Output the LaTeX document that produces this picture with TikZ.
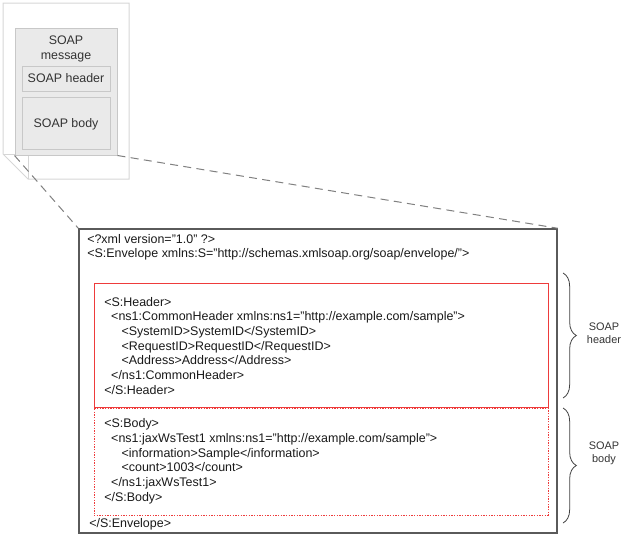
\documentclass[tikz,border=0pt]{standalone}
\usepackage{fontspec}
\setmainfont{Liberation Sans}
\usepackage{tikz}
\usetikzlibrary{positioning,fit,decorations.pathreplacing}

\definecolor{pageline}{HTML}{D6D6D6}
\definecolor{msgfill}{HTML}{EAEAEA}
\definecolor{msgline}{HTML}{C8C8C8}
\definecolor{envline}{HTML}{5A5A5A}
\definecolor{soapred}{HTML}{EE3B3B}
\definecolor{zoomgray}{HTML}{808080}

\begin{document}
\begin{tikzpicture}[x=0.75pt, y=-0.75pt,
  every node/.style={font=\fontsize{9.35}{11}\selectfont, text=black!90},
  pageframe/.style={draw=pageline, line width=0.75pt},
  msgbox/.style={draw=msgline, fill=msgfill, inner sep=0pt, line width=0.75pt},
  msgtext/.style={inner sep=0pt, align=center, font=\fontsize{9.3}{11}\selectfont, text=black!80},
  envbox/.style={draw=envline, inner sep=0pt, line width=1.1pt},
  partbox/.style={draw=soapred, inner sep=0pt, line width=0.75pt},
  codetext/.style={anchor=base west, inner sep=0pt, align=left},
  zoomline/.style={draw=zoomgray, dash pattern=on 6pt off 4pt, line width=0.75pt},
  sidebrace/.style={decorate, decoration={brace, amplitude=10pt}, draw=black!75, line width=0.6pt},
  sidelabel/.style={inner sep=0pt, align=center, font=\fontsize{8.2}{10}\selectfont, text=black!80},
]
\useasboundingbox (0,0) rectangle (629,536);

% === Small page (top left) ===
\draw[pageframe] (28,179) -- (3,154) -- (3,3) -- (129,3) -- (129,179) -- cycle;
\draw[pageframe] (3,154) -- (28,154) -- (28,179);

\node[msgbox, fit={(15,28) (117,155)}] (msg) {};
\node[msgtext] (msgtitle) at (66,49) {SOAP\\message};
\node[msgbox, fit={(22,66) (110,91)}] (hdr) {};
\node[msgtext, text depth=0pt] (hdrtext) at (hdr.center) {SOAP header};
\node[msgbox, fit={(22,97) (110,149)}] (bdy) {};
\node[msgtext, text depth=0pt] (bdytext) at (bdy.center) {SOAP body};

% === Envelope (zoomed) ===
\node[envbox, fit={(79,229) (557,533)}] (env) {};
\node[partbox, fit={(94,283) (548,407)}] (shdr) {};
\node[partbox, dash pattern=on 1pt off 1pt, fit={(94,408) (548,515)}] (sbdy) {};

% zoom lines
\draw[zoomline] (msg.south west) -- (env.north west);
\draw[zoomline] (msg.south east) -- (env.north east);

% === XML text ===
\node[codetext] (xmldecl) at (87,243) {<?xml version="1.0" ?>};
\node[codetext] (envopen) at (87,257.5) {<S:Envelope xmlns:S="http://schemas.xmlsoap.org/soap/envelope/">};

% multi-line: base is the last line
\node[codetext] (hdrxml) at (104,394.3) {<S:Header>\\
  \hspace*{0.56em}<ns1:CommonHeader xmlns:ns1="http://example.com/sample">\\
  \hspace*{1.39em}<SystemID>SystemID</SystemID>\\
  \hspace*{1.39em}<RequestID>RequestID</RequestID>\\
  \hspace*{1.39em}<Address>Address</Address>\\
  \hspace*{0.56em}</ns1:CommonHeader>\\
  </S:Header>};

\node[codetext] (bdyxml) at (104,501) {<S:Body>\\
  \hspace*{0.56em}<ns1:jaxWsTest1 xmlns:ns1="http://example.com/sample">\\
  \hspace*{1.39em}<information>Sample</information>\\
  \hspace*{1.39em}<count>1003</count>\\
  \hspace*{0.56em}</ns1:jaxWsTest1>\\
  </S:Body>};

\node[codetext] (envclose) at (89,527) {</S:Envelope>};

% === Braces ===
\draw[sidebrace] (563,273) -- (563,398);
\draw[sidebrace] (563,408) -- (563,523);
\node[sidelabel] (hdrlabel) at (604,333.5) {SOAP\\header};
\node[sidelabel] (bdylabel) at (604,453) {SOAP\\body};

\end{tikzpicture}
\end{document}
